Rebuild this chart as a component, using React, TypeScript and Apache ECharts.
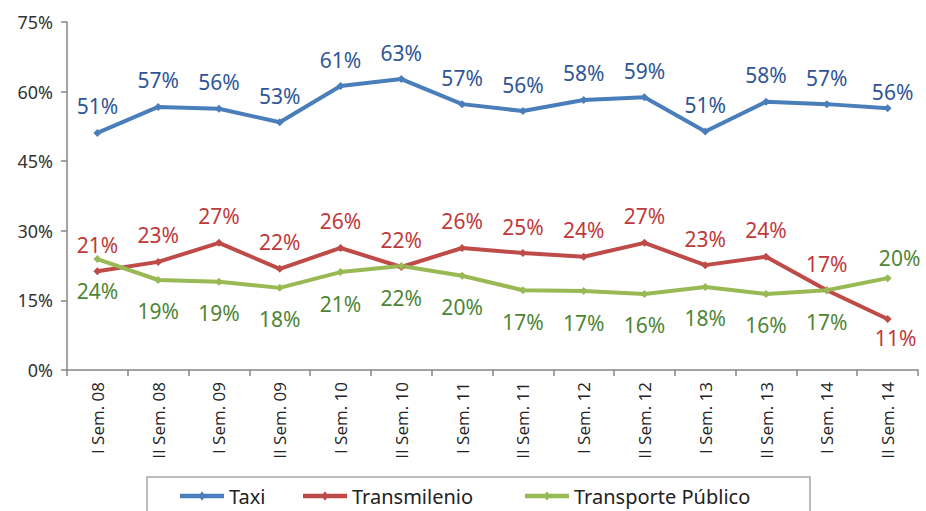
import React, { useEffect, useRef } from "react";
import * as echarts from "echarts";

const categories = [
  "I Sem. 08", "II Sem. 08", "I Sem. 09", "II Sem. 09", "I Sem. 10", "II Sem. 10", "I Sem. 11",
  "II Sem. 11", "I Sem. 12", "II Sem. 12", "I Sem. 13", "II Sem. 13", "I Sem. 14", "II Sem. 14",
];
const taxi = [51.1, 56.7, 56.3, 53.4, 61.2, 62.7, 57.3, 55.8, 58.2, 58.8, 51.4, 57.8, 57.3, 56.4];
const transmilenio = [21.3, 23.3, 27.4, 21.8, 26.3, 22.2, 26.3, 25.2, 24.4, 27.4, 22.6, 24.4, 17.2, 11.0];
const publico = [23.9, 19.4, 19.0, 17.7, 21.1, 22.4, 20.3, 17.2, 17.0, 16.4, 17.9, 16.4, 17.2, 19.8];
const yTicks = [0, 15, 30, 45, 60, 75];
const seriesNames = ["Taxi", "Transmilenio", "Transporte Público"];

const FONT = "Noto Sans";
const AXIS_FONT = "Open Sans";

export default function App() {
  const ref = useRef<HTMLDivElement>(null);
  useEffect(() => {
    if (!ref.current) return;
    const chart = echarts.init(ref.current, undefined, { renderer: "svg" });
    const last = categories.length - 1;
    const mkSeries = (
      name: string,
      values: number[],
      color: string,
      labelColor: string,
      pos: "top" | "bottom",
      lastLabel: any
    ) => ({
      name,
      type: "line",
      data: values.map((v, i) => (i === last && lastLabel ? { value: v, label: lastLabel } : v)),
      symbol: "diamond",
      symbolSize: 8,
      lineStyle: { color, width: 4 },
      itemStyle: { color },
      label: {
        show: true,
        position: pos,
        distance: pos === "top" ? 12 : 17,
        color: labelColor,
        fontFamily: FONT,
        fontSize: 21,
        formatter: (p: any) => Math.round(p.value) + "%",
      },
    });
    const legendLefts = [180, 303, 525];
    const legendIcon = "path://M0,3 L44,3 L44,7.5 L0,7.5 Z M22,0.5 L25.5,5.25 L22,10 L18.5,5.25 Z";
    chart.setOption({
      animation: false,
      backgroundColor: "#ffffff",
      textStyle: { fontFamily: FONT },
      grid: { left: 67, right: 8, top: 22, bottom: 141, containLabel: false },
      xAxis: {
        type: "category",
        data: categories,
        boundaryGap: true,
        axisLine: { lineStyle: { color: "#868686", width: 1.5 } },
        axisTick: { show: true, length: 6, lineStyle: { color: "#868686", width: 1.5 } },
        axisLabel: {
          rotate: 90,
          interval: 0,
          margin: 12,
          color: "#222222",
          fontFamily: AXIS_FONT,
          fontSize: 17,
        },
      },
      yAxis: {
        type: "value",
        min: yTicks[0],
        max: yTicks[yTicks.length - 1],
        interval: 15,
        splitLine: { show: false },
        axisLine: { show: true, lineStyle: { color: "#868686", width: 1.5 } },
        axisTick: { show: true, length: 6, lineStyle: { color: "#868686", width: 1.5 } },
        axisLabel: {
          margin: 14,
          color: "#333333",
          fontFamily: FONT,
          fontSize: 18,
          formatter: (v: number) => v + "%",
        },
      },
      legend: seriesNames.map((n, i) => ({
        left: legendLefts[i],
        top: 486,
        padding: 0,
        itemWidth: 44,
        itemHeight: 10,
        textStyle: { color: "#222222", fontFamily: FONT, fontSize: 20, padding: [0, 0, 0, 0] },
        data: [{ name: n, icon: legendIcon }],
      })),
      graphic: [
        {
          type: "rect",
          shape: { x: 147, y: 477, width: 663, height: 60 },
          style: { fill: "none", stroke: "#a6a6a6", lineWidth: 1.5 },
          silent: true,
        },
      ],
      series: [
        mkSeries("Taxi", taxi, "#4a7ebb", "#2f5597", "top", { distance: 2, offset: [5, 0] }),
        mkSeries("Transmilenio", transmilenio, "#be4b48", "#c0393b", "top", {
          position: "bottom",
          distance: 5,
          offset: [8, 0],
        }),
        mkSeries("Transporte Público", publico, "#98b954", "#4e8535", "bottom", {
          position: "top",
          distance: 6,
          offset: [12, 0],
        }),
      ],
    });
    return () => chart.dispose();
  }, []);
  return (
    <div
      ref={ref}
      style={{ position: "fixed", left: 0, top: 0, width: 926, height: 511, background: "#fff" }}
    />
  );
}
